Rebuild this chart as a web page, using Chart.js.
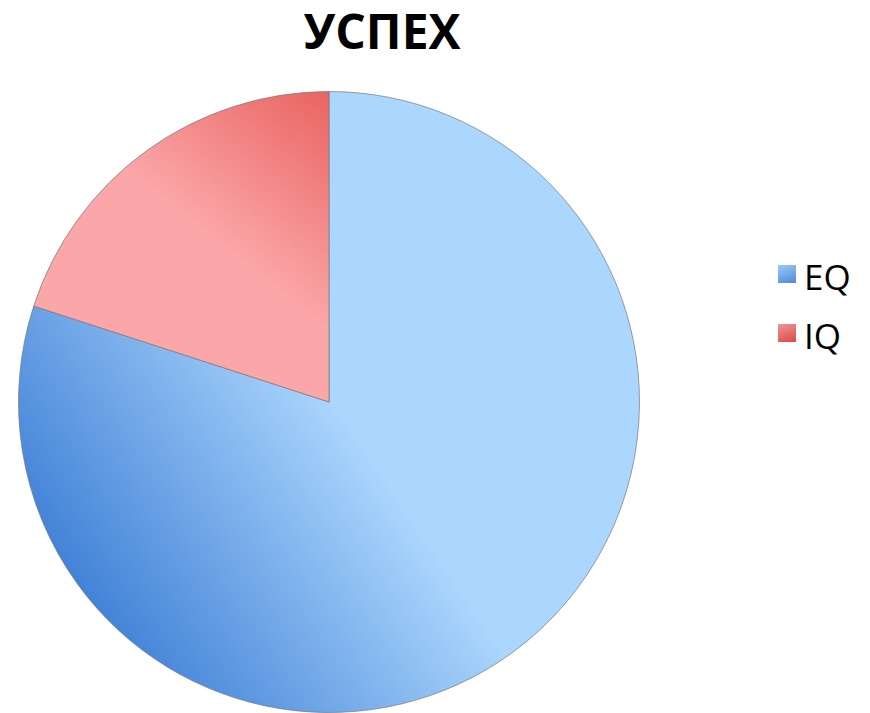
<!DOCTYPE html>
<html>
<head>
<meta charset="utf-8">
<script src="https://cdn.jsdelivr.net/npm/chart.js@4/dist/chart.umd.min.js"></script>
<style>
  html, body { margin: 0; padding: 0; background: #fff; overflow: hidden; }
  body { width: 870px; height: 713px; position: relative; font-family: 'Open Sans', sans-serif; }
  #title { position: absolute; left: 232px; top: 7px; width: 300px; text-align: center;
    font-size: 48px; line-height: 48px; font-weight: 700; color: #000; }
  #wrap { position: absolute; left: 0; top: 91px; width: 658px; height: 622px; }
  .leg { position: absolute; left: 778px; font-size: 35px; line-height: 35px; color: #000; white-space: nowrap; }
  .leg i { position: absolute; left: 0; width: 18px; height: 18px; top: 6px; }
  .leg span { position: absolute; left: 26px; top: 0; }
</style>
</head>
<body>
<div id="title">УСПЕХ</div>
<div id="wrap"><canvas id="pie"></canvas></div>
<div id="legend"></div>
<script>
/* pie: share of success — EQ vs IQ */
const LABELS = ['EQ', 'IQ'];
const VALUES = [80, 20];
// [dark, light] ends of each slice's gradient
const GRAD = [['#3b7cd4', '#abd6fd'], ['#e9625f', '#fba6a8']];
const LEGEND_SWATCH = [['#9cc8f7', '#4f8bd8'], ['#f29595', '#d94a4a']];

let gradCache = null;
function sliceFill(ctx) {
  const chart = ctx.chart;
  const area = chart.chartArea;
  if (!area) return GRAD[ctx.dataIndex][1];
  if (!gradCache || gradCache.w !== area.width || gradCache.h !== area.height) {
    const c = chart.ctx;
    // EQ: dark at bottom-left, light toward the centre and right
    const g0 = c.createLinearGradient(80, 539, 360, 349);
    g0.addColorStop(0, GRAD[0][0]);
    g0.addColorStop(1, GRAD[0][1]);
    // IQ: deeper red by the top edge, pale pink toward the middle
    const g1 = c.createLinearGradient(335, -1, 215, 149);
    g1.addColorStop(0, GRAD[1][0]);
    g1.addColorStop(1, GRAD[1][1]);
    gradCache = { w: area.width, h: area.height, list: [g0, g1] };
  }
  return gradCache.list[ctx.dataIndex];
}

new Chart(document.getElementById('pie'), {
  type: 'pie',
  data: {
    labels: LABELS,
    datasets: [{
      data: VALUES,
      backgroundColor: sliceFill,
      borderColor: 'rgba(120,120,120,0.7)',
      borderWidth: 1,
      hoverOffset: 0
    }]
  },
  options: {
    responsive: true,
    maintainAspectRatio: false,
    animation: false,
    layout: { autoPadding: false, padding: 0 },
    plugins: { legend: { display: false }, title: { display: false }, tooltip: { enabled: false } }
  }
});

// legend, to the right of the pie
const legTop = [259, 318];
const leg = document.getElementById('legend');
LABELS.forEach((l, i) => {
  const d = document.createElement('div');
  d.className = 'leg';
  d.style.top = legTop[i] + 'px';
  d.innerHTML = '<i style="background:linear-gradient(160deg,' + LEGEND_SWATCH[i][0] + ',' + LEGEND_SWATCH[i][1] + ')"></i><span>' + l + '</span>';
  leg.appendChild(d);
});
</script>
</body>
</html>
